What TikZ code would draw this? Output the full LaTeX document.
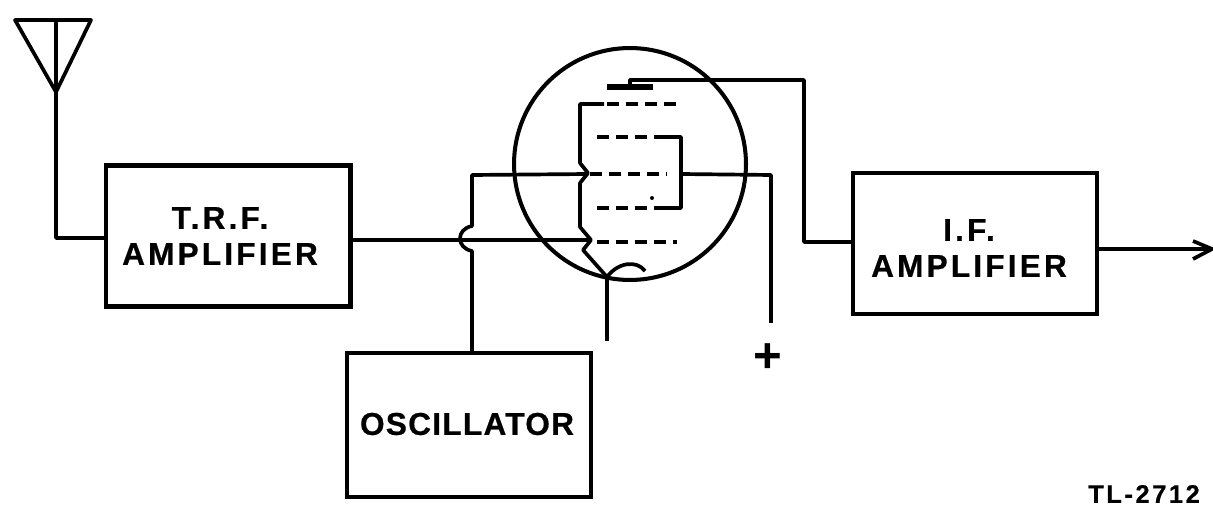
\documentclass[tikz,border=0pt]{standalone}
\usepackage{fontspec}
\usepackage{tikz}
\newfontfamily\blockfont[LetterSpace=10.0,FakeBold=0.6]{Liberation Sans Bold}
\newfontfamily\oscfont[LetterSpace=4.0,FakeBold=0.6]{Liberation Sans Bold}
\newfontfamily\plusfont{Liberation Sans Bold}

\tikzset{
  wire/.style={line width=2.1pt, line join=round},
  griddash/.style={line width=2.4pt, dash pattern=on 7pt off 3.8pt},
  blockbox/.style={draw, line width=2.3pt, inner sep=0pt, outer sep=0pt},
  blocklabel/.style={inner sep=0pt, align=center, font=\blockfont\fontsize{18}{20.5}\selectfont},
}

\begin{document}
\begin{tikzpicture}[x=0.02cm, y=-0.02cm]

  \useasboundingbox (0,0) rectangle (1213,506);

  % blocks
  \node[blockbox, minimum width=4.9cm, minimum height=2.82cm] (trf) at (228,236) {};
  \node[blockbox, minimum width=4.88cm, minimum height=2.82cm] (ifamp) at (975,243.5) {};
  \node[blockbox, minimum width=4.88cm, minimum height=2.88cm] (osc) at (469,425) {};

  % block labels
  \node[blocklabel] (trflabel) at (220,236) {T.R.F.\\AMPLIFIER};
  \node[blocklabel] (iflabel) at (969,248) {I.F.\\AMPLIFIER};
  \node[blocklabel, font=\oscfont\fontsize{18}{20.5}\selectfont] (osclabel) at (467,424) {OSCILLATOR};

  % tube envelope
  \node[draw, circle, line width=2.3pt, minimum size=4.64cm, inner sep=0pt, outer sep=0pt] (tube) at (630,164) {};

  % antenna
  \coordinate (anttip) at (56,92);
  \coordinate (anttop) at (56,20);
  \coordinate (antfoot) at (56,238);
  \coordinate (trfin) at (105,238);
  \draw[wire] (15,20) -- (91,20) -- (anttip) -- cycle;
  \draw[wire] (anttop) -- (antfoot) -- (trfin);

  % signal grid feed
  \coordinate (trfout) at (350,240);
  \coordinate (sigkink) at (591,240);
  \draw[wire] (trfout) -- (sigkink);

  % oscillator feed, hopping over the signal line
  \coordinate (oscout) at (472,353);
  \coordinate (hoplow) at (472,251);
  \coordinate (hopup) at (472,226);
  \coordinate (osccorner) at (472,175);
  \coordinate (osckink) at (588,174);
  \draw[wire] (oscout) -- (hoplow) .. controls (456,248) and (456,229) .. (hopup)
      -- (osccorner) -- (osckink);

  % grid side rod, cathode and heater
  \coordinate (cath) at (607,277);
  \coordinate (cathend) at (607,341);
  \draw[wire] (604,104) -- (580,104) -- (580,163) -- (588,173) -- (580,183) -- (580,227)
      -- (sigkink) -- (583,250) -- (cath) -- (cathend);
  \draw[wire] (cath) .. controls (618,262) and (637,260) .. (645,271);

  % grids
  \draw[griddash] (607,104) -- (677,104);
  \draw[griddash] (597,137) -- (657,137);
  \draw[griddash] (590,174) -- (666,174);
  \draw[griddash] (597,208) -- (663,208);
  \draw[griddash] (597,242) -- (677,242);
  \fill (652,198) circle (2);

  % screen loop and plus lead
  \coordinate (pluslead) at (771,323);
  \draw[wire] (657,137) -- (681,137) -- (681,208) -- (663,208);
  \draw[wire] (681,174) -- (771,175) -- (pluslead);
  \node[inner sep=0pt, font=\plusfont\fontsize{28}{28}\selectfont] (plus) at (768,358) {+};

  % plate
  \coordinate (plate) at (630,80);
  \coordinate (platecorner) at (804,80);
  \coordinate (platefoot) at (804,242);
  \coordinate (ifin) at (853,242);
  \draw[line width=3pt] (607,87) -- (653,87);
  \draw[wire] (630,87) -- (plate) -- (platecorner) -- (platefoot) -- (ifin);

  % output
  \coordinate (ifout) at (1097,249);
  \coordinate (outtip) at (1212,249);
  \draw[wire] (ifout) -- (outtip);
  \draw[wire] (1193,241) -- (outtip) -- (1193,259);

  % drawing number
  \node[font=\blockfont\fontsize{14.5}{16}\selectfont, inner sep=0pt] (tlnumber) at (1144,494) {TL-2712};

\end{tikzpicture}
\end{document}
